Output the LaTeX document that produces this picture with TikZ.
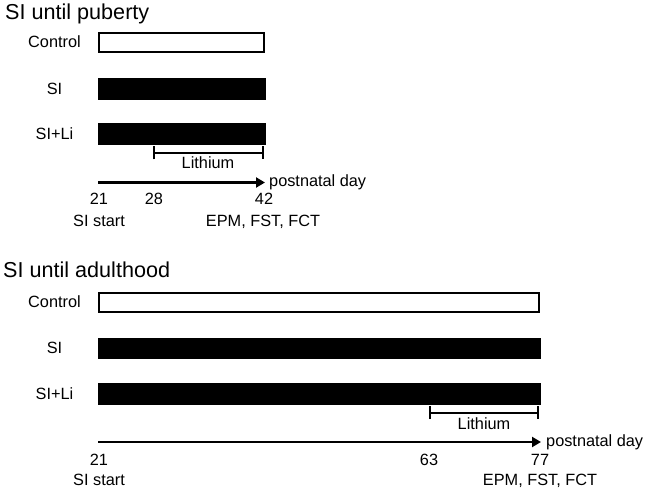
\documentclass[tikz,border=0pt]{standalone}
\usepackage{fontspec}
\setmainfont{Liberation Sans}
\usetikzlibrary{arrows.meta}
\begin{document}
\begin{tikzpicture}[x=1pt,y=-1pt,
  lbl/.style={font=\fontsize{16.3}{19}\selectfont, inner sep=0pt, anchor=base},
  ttl/.style={font=\fontsize{21.6}{25}\selectfont, inner sep=0pt, anchor=base west},
  whitebar/.style={draw=black, line width=2pt, fill=white},
  blackbar/.style={draw=black, line width=0.5pt, fill=black},
  axis/.style={line width=2.6pt, -{Triangle[length=9pt,width=10pt]}},
  brk/.style={line width=2pt, {Bar[width=13pt,line width=2pt]}-{Bar[width=13pt,line width=2pt]}}
]
\useasboundingbox (0,0) rectangle (645,489);

% ---------- top panel ----------
\node[ttl] (t1) at (5,20) {SI until puberty};
\node[lbl] (c1) at (54.5,47.8) {Control};
\node[lbl] (s1) at (54.5,94.5) {SI};
\node[lbl] (l1) at (54.5,139.5) {SI+Li};
\path[whitebar] (99,33) rectangle (264,52);
\path[blackbar] (98,78.5) rectangle (265,99);
\path[blackbar] (98,123.5) rectangle (265,144);
\coordinate (b1a) at (153,153);
\coordinate (b1b) at (264,153);
\draw[brk] (b1a) -- (b1b);
\node[lbl] (li1) at (208,169) {Lithium};
\coordinate (a1s) at (98,182.5);
\coordinate (a1e) at (265,182.5);
\draw[axis] (a1s) -- (a1e);
\node[lbl, anchor=base west] (p1) at (269,187) {postnatal day};
\node[lbl] (n21a) at (99,205) {21};
\node[lbl] (n28) at (154,205) {28};
\node[lbl] (n42) at (264,205) {42};
\node[lbl] (ss1) at (99,226) {SI start};
\node[lbl] (e1) at (263,226) {EPM, FST, FCT};

% ---------- bottom panel ----------
\node[ttl] (t2) at (3,277) {SI until adulthood};
\node[lbl] (c2) at (54.5,307.8) {Control};
\node[lbl] (s2) at (54.5,353.8) {SI};
\node[lbl] (l2) at (54.5,399) {SI+Li};
\path[whitebar] (99,293) rectangle (539,312);
\path[blackbar] (98,338) rectangle (540,358.5);
\path[blackbar] (98,383) rectangle (540,404);
\coordinate (b2a) at (429,412.5);
\coordinate (b2b) at (539,412.5);
\draw[brk] (b2a) -- (b2b);
\node[lbl] (li2) at (484,429) {Lithium};
\coordinate (a2s) at (98,442);
\coordinate (a2e) at (541,442);
\draw[axis] (a2s) -- (a2e);
\node[lbl, anchor=base west] (p2) at (546,446.7) {postnatal day};
\node[lbl] (n21b) at (99,465) {21};
\node[lbl] (n63) at (429,465) {63};
\node[lbl] (n77) at (540,465) {77};
\node[lbl] (ss2) at (99,485) {SI start};
\node[lbl] (e2) at (540,485) {EPM, FST, FCT};
\end{tikzpicture}
\end{document}
